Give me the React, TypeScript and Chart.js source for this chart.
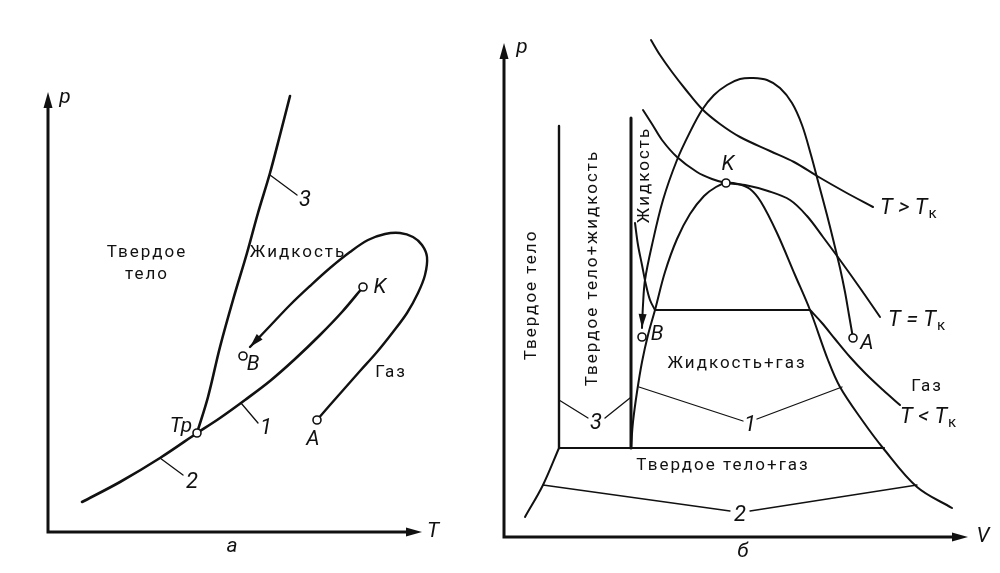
import React, { useEffect, useRef } from "react";
import { Chart, registerables } from "chart.js";
Chart.register(...registerables);

type P = [number, number];

// ================= Panel "а": p–T diagram =================
const tAxisMax = 37.4;
const pAxisMaxA = 44;
const curve3Melting: P[] = [[14.9, 9.9], [16.0, 13.5], [17.2, 18.5], [18.5, 23.2], [19.9, 27.9], [21.0, 31.9], [22.2, 35.9], [23.2, 39.7], [24.2, 43.6]];
const curve2Sublimation: P[] = [[3.4, 3.0], [7.2, 5.0], [11.2, 7.4], [14.9, 9.9]];
const curve1Boiling: P[] = [[14.9, 9.9], [17.2, 11.4], [19.7, 13.2], [22.2, 15.1], [24.7, 17.3], [27.2, 19.7], [29.4, 22.0], [31.5, 24.5]];
const pathAtoB_pT: P[] = [[26.9, 11.2], [28.2, 12.7], [29.7, 14.4], [31.2, 16.1], [32.9, 18.0], [34.5, 20.0], [35.9, 21.9], [37.0, 23.9], [37.7, 25.7], [37.9, 27.5], [37.4, 28.7], [36.5, 29.5], [35.2, 29.9], [33.7, 29.8], [32.0, 29.2], [30.2, 28.0], [28.2, 26.4], [26.2, 24.6], [24.2, 22.7], [22.2, 20.6], [20.2, 18.5]];
const pointsA: P[] = [[14.9, 9.9], [31.5, 24.5], [19.5, 17.6], [26.9, 11.2]]; // Тр, K, B, A
const leadersA: P[][] = [
  [[22.2, 35.7], [24.9, 33.7]],
  [[11.2, 7.4], [13.5, 5.7]],
  [[19.3, 12.9], [21.0, 10.9]],
];

// ================= Panel "б": p–V diagram =================
const vAxisMax = 46.4;
const pAxisMaxB = 49.4;
const solidEdge: P[] = [[5.5, 8.9], [5.5, 41.1]];
const meltEdge: P[] = [[12.7, 8.9], [12.7, 41.9]];
const tripleLine: P[] = [[5.5, 8.9], [38.0, 8.9]];
const sublimationEdge: P[] = [[5.5, 8.9], [3.9, 5.2], [2.1, 2.0]];
const saturationDome: P[] = [[12.7, 8.9], [12.9, 11.5], [13.3, 14.5], [13.8, 17.5], [14.4, 20.2], [15.1, 22.7], [16.1, 26.5], [17.3, 29.8], [18.6, 32.3], [20.0, 34.1], [21.2, 35.0], [22.2, 35.4], [23.4, 35.3], [24.6, 34.8], [25.7, 33.5], [27.3, 30.4], [29.1, 26.2], [30.6, 22.7], [32.4, 17.7], [33.6, 15.0], [35.8, 11.7], [37.9, 8.9], [41.3, 5.0], [44.8, 2.9]];
const isoCritical: P[] = [[13.9, 42.7], [14.8, 41.3], [15.8, 39.7], [17.3, 38.0], [19.3, 36.5], [20.8, 35.8], [22.2, 35.4], [24.1, 35.2], [26.4, 34.6], [28.6, 33.7], [30.3, 32.1], [31.9, 30.0], [33.6, 27.7], [35.6, 24.9], [37.6, 22.0]];
const isoAbove: P[] = [[14.7, 49.7], [15.6, 48.2], [16.8, 46.5], [18.2, 44.7], [19.8, 42.8], [21.6, 41.3], [23.6, 40.0], [26.6, 38.6], [29.0, 37.5], [31.3, 36.1], [34.1, 34.5], [36.9, 33.0]];
const isoBelowLiquid: P[] = [[13.1, 31.4], [13.4, 29.2], [13.8, 27.2], [14.2, 25.2], [14.6, 23.7], [15.1, 22.7]];
const isoBelowPlateau: P[] = [[15.1, 22.7], [30.6, 22.7]];
const isoBelowGas: P[] = [[30.6, 22.7], [31.8, 21.4], [33.1, 19.8], [34.6, 18.0], [36.2, 16.3], [37.9, 14.7], [39.6, 13.2]];
const pathAtoB_pV: P[] = [[34.9, 19.9], [34.5, 22.2], [34.1, 24.5], [33.6, 26.9], [33.0, 29.4], [32.3, 32.2], [31.5, 35.2], [30.7, 38.2], [29.8, 41.2], [28.8, 43.4], [27.6, 44.9], [26.3, 45.7], [24.9, 45.9], [23.6, 45.8], [22.3, 45.2], [21.0, 44.2], [19.8, 42.7], [18.6, 40.5], [17.3, 37.7], [15.9, 33.7], [14.8, 29.2], [14.1, 25.7], [13.9, 23.2], [13.8, 20.9]];
const pointsB: P[] = [[22.2, 35.4], [13.8, 20.0], [34.9, 19.9]]; // K, B, A
const leadersB: P[][] = [
  [[13.5, 15.0], [23.9, 11.6]],
  [[25.3, 11.8], [33.8, 15.0]],
  [[3.9, 5.2], [22.6, 2.6]],
  [[24.6, 2.6], [41.3, 5.2]],
  [[5.5, 13.7], [8.4, 11.9]],
  [[10.1, 11.9], [12.6, 13.9]],
];

// ================= Text =================
type Label = { text: string; x: number; y: number; kind: "roman" | "italic" | "num"; rot?: number; align?: CanvasTextAlign; sub?: string };
const ROMAN = "17px Roboto, 'Liberation Sans', sans-serif";
const ITALIC = "italic 21px Roboto, 'Liberation Sans', sans-serif";
const NUM = "italic 22px Roboto, 'Liberation Sans', sans-serif";
const SUB = "15px Roboto, 'Liberation Sans', sans-serif";

const labelsA: Label[] = [
  { text: "Твердое", x: 9.9, y: 27.9, kind: "roman" },
  { text: "тело", x: 9.9, y: 25.7, kind: "roman" },
  { text: "Жидкость", x: 25.0, y: 27.9, kind: "roman" },
  { text: "Газ", x: 34.3, y: 15.9, kind: "roman" },
  { text: "K", x: 33.2, y: 24.4, kind: "italic" },
  { text: "B", x: 20.5, y: 16.7, kind: "italic" },
  { text: "A", x: 26.5, y: 9.2, kind: "italic" },
  { text: "Тр", x: 13.3, y: 10.5, kind: "italic" },
  { text: "1", x: 21.8, y: 10.4, kind: "num" },
  { text: "2", x: 14.4, y: 5.0, kind: "num" },
  { text: "3", x: 25.7, y: 33.2, kind: "num" },
  { text: "p", x: 1.7, y: 43.4, kind: "italic" },
  { text: "T", x: 38.5, y: 0, kind: "italic" },
  { text: "а", x: 18.4, y: -1.5, kind: "italic" },
];
const labelsB: Label[] = [
  { text: "p", x: 1.8, y: 48.9, kind: "italic" },
  { text: "V", x: 47.9, y: 0, kind: "italic" },
  { text: "б", x: 23.9, y: -1.5, kind: "italic" },
  { text: "Твердое тело", x: 2.8, y: 24.2, kind: "roman", rot: -90 },
  { text: "Твердое тело+жидкость", x: 8.9, y: 26.9, kind: "roman", rot: -90 },
  { text: "Жидкость", x: 14.1, y: 36.2, kind: "roman", rot: -90 },
  { text: "K", x: 22.4, y: 37.2, kind: "italic" },
  { text: "B", x: 15.3, y: 20.2, kind: "italic" },
  { text: "A", x: 36.3, y: 19.3, kind: "italic" },
  { text: "Жидкость+газ", x: 23.3, y: 17.3, kind: "roman" },
  { text: "Твердое тело+газ", x: 21.9, y: 7.1, kind: "roman" },
  { text: "Газ", x: 42.3, y: 15.0, kind: "roman" },
  { text: "T > T", x: 37.6, y: 32.9, kind: "num", align: "left", sub: "к" },
  { text: "T = T", x: 38.4, y: 21.7, kind: "num", align: "left", sub: "к" },
  { text: "T < T", x: 39.6, y: 12.0, kind: "num", align: "left", sub: "к" },
  { text: "1", x: 24.6, y: 11.2, kind: "num" },
  { text: "2", x: 23.6, y: 2.2, kind: "num" },
  { text: "3", x: 9.2, y: 11.4, kind: "num" },
];

const INK = "#111";

function lineDs(pts: P[], width: number, tension = 0.35) {
  return {
    data: pts.map(([x, y]) => ({ x, y })),
    borderColor: INK,
    borderWidth: width,
    pointRadius: 0,
    pointHoverRadius: 0,
    tension,
    fill: false,
    clip: false as any,
    borderCapStyle: "round",
    borderJoinStyle: "round",
  };
}
function dotsDs(pts: P[]) {
  return {
    data: pts.map(([x, y]) => ({ x, y })),
    showLine: false,
    pointRadius: 4,
    pointHoverRadius: 4,
    pointBackgroundColor: "#fff",
    pointBorderColor: INK,
    pointBorderWidth: 1.6,
    clip: false as any,
  };
}

function head(ctx: CanvasRenderingContext2D, fx: number, fy: number, tx: number, ty: number, len: number, hw: number) {
  const dx = tx - fx, dy = ty - fy;
  const d = Math.hypot(dx, dy) || 1;
  const ux = dx / d, uy = dy / d;
  const bx = tx - ux * len, by = ty - uy * len;
  ctx.beginPath();
  ctx.moveTo(tx, ty);
  ctx.lineTo(bx - uy * hw, by + ux * hw);
  ctx.lineTo(bx + uy * hw, by - ux * hw);
  ctx.closePath();
  ctx.fill();
}

function makeDecor(labels: Label[], arrowIdx: number[], arrowLen: number) {
  return {
    id: "decor",
    afterDatasetsDraw(chart: any) {
      const ctx: CanvasRenderingContext2D = chart.ctx;
      const xs = chart.scales.x, ys = chart.scales.y;
      const X = (v: number) => xs.getPixelForValue(v);
      const Y = (v: number) => ys.getPixelForValue(v);
      ctx.save();
      ctx.strokeStyle = INK;
      ctx.fillStyle = INK;
      // axes with arrows
      const ox = X(0), oy = Y(0), ex = X(xs.max), ty = Y(ys.max);
      ctx.lineWidth = 3;
      ctx.lineCap = "butt";
      ctx.beginPath();
      ctx.moveTo(ox, oy + 1.5);
      ctx.lineTo(ox, ty + 10);
      ctx.moveTo(ox - 1.5, oy);
      ctx.lineTo(ex - 10, oy);
      ctx.stroke();
      head(ctx, ox, oy, ox, ty, 16, 4.5);
      head(ctx, ox, oy, ex, oy, 16, 4.5);
      // arrowheads at ends of path datasets
      for (const i of arrowIdx) {
        const d = chart.getDatasetMeta(i).data;
        const a = d[d.length - 2], b = d[d.length - 1];
        head(ctx, a.x, a.y, b.x, b.y, arrowLen, 4);
      }
      // labels
      for (const l of labels) {
        const px = X(l.x), py = Y(l.y);
        ctx.save();
        ctx.translate(px, py);
        if (l.rot) ctx.rotate((l.rot * Math.PI) / 180);
        ctx.font = l.kind === "roman" ? ROMAN : l.kind === "italic" ? ITALIC : NUM;
        (ctx as any).letterSpacing = l.kind === "roman" ? "2px" : "0px";
        ctx.textBaseline = "middle";
        ctx.textAlign = l.align || "center";
        ctx.fillText(l.text, 0, 0);
        if (l.sub) {
          const w = ctx.measureText(l.text).width;
          ctx.font = SUB;
          ctx.textAlign = "left";
          ctx.fillText(l.sub, w + 1, 6);
        }
        ctx.restore();
      }
      ctx.restore();
    },
  };
}

function baseOptions(xMax: number, yMax: number, padding: any) {
  return {
    responsive: false,
    animation: false,
    devicePixelRatio: 1,
    layout: { padding },
    events: [],
    plugins: { legend: { display: false }, tooltip: { enabled: false } },
    scales: {
      x: { type: "linear", min: 0, max: xMax, display: false },
      y: { type: "linear", min: 0, max: yMax, display: false },
    },
  };
}

export default function App() {
  const leftRef = useRef<HTMLCanvasElement>(null);
  const rightRef = useRef<HTMLCanvasElement>(null);

  useEffect(() => {
    const left = new Chart(leftRef.current as HTMLCanvasElement, {
      type: "line",
      data: {
        datasets: [
          dotsDs(pointsA),
          lineDs(curve3Melting, 2.6),
          lineDs(curve2Sublimation, 2.6),
          lineDs(curve1Boiling, 2.6),
          lineDs(pathAtoB_pT, 2.4),
          ...leadersA.map((l) => lineDs(l, 1.3, 0)),
        ] as any,
      },
      options: baseOptions(tAxisMax, pAxisMaxA, { left: 48, right: 58, top: 92, bottom: 41 }) as any,
      plugins: [makeDecor(labelsA, [4], 14)],
    });
    const right = new Chart(rightRef.current as HTMLCanvasElement, {
      type: "line",
      data: {
        datasets: [
          dotsDs(pointsB),
          lineDs(solidEdge, 2.4, 0),
          lineDs(meltEdge, 3.0, 0),
          lineDs(tripleLine, 2.2, 0),
          lineDs(sublimationEdge, 2.0),
          lineDs(saturationDome, 2.0),
          lineDs(isoCritical, 2.0),
          lineDs(isoAbove, 2.0),
          lineDs(isoBelowLiquid, 2.0),
          lineDs(isoBelowPlateau, 2.0, 0),
          lineDs(isoBelowGas, 2.0),
          lineDs(pathAtoB_pV, 2.0),
          ...leadersB.map((l) => lineDs(l, 1.3, 0)),
        ] as any,
      },
      options: baseOptions(vAxisMax, pAxisMaxB, { left: 24, right: 32, top: 43, bottom: 36 }) as any,
      plugins: [makeDecor(labelsB, [11], 14)],
    });
    return () => {
      left.destroy();
      right.destroy();
    };
  }, []);

  return (
    <div style={{ position: "absolute", left: 0, top: 0, width: 1000, height: 573, background: "#fff" }}>
      <canvas ref={leftRef} width={480} height={573} style={{ position: "absolute", left: 0, top: 0 }} />
      <canvas ref={rightRef} width={520} height={573} style={{ position: "absolute", left: 480, top: 0 }} />
    </div>
  );
}
